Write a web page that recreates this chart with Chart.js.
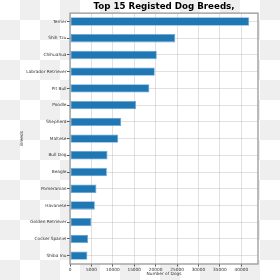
<!DOCTYPE html>
<html>
<head>
<meta charset="utf-8">
<script src="https://cdn.jsdelivr.net/npm/chart.js@4.4.0/dist/chart.umd.min.js"></script>
<style>
    html, body {
        margin: 0;
        padding: 0;
        width: 280px;
        height: 280px;
        overflow: hidden;
        /* transparent-figure checkerboard */
        background-color: #fff;
        background-image: conic-gradient(#efefef 0 25%, #fff 0 50%, #efefef 0 75%, #fff 0);
        background-size: 40px 40px;
    }
    #wrap {
        position: relative;
        width: 280px;
        height: 280px;
    }
</style>
</head>
<body>
<div id="wrap"><canvas id="dogChart"></canvas></div>
<script>
// Data
const breeds = [
    'Terrier', 'Shih Tzu', 'Chihuahua', 'Labrador Retriever', 'Pit Bull',
    'Poodle', 'Shepherd', 'Maltese', 'Bull Dog', 'Beagle',
    'Pomeranian', 'Havanese', 'Golden Retriever', 'Cocker Spaniel', 'Shiba Inu'
];
const dogCounts = [
    41850, 24580, 20260, 19790, 18540,
    15420, 11970, 11270, 8760, 8610,
    6170, 5800, 5000, 4230, 4060
];
const xTicks = [0, 5000, 10000, 15000, 20000, 25000, 30000, 35000, 40000];
const xMax = 43900;

const FONT = 'DejaVu Sans, sans-serif';
const GRID = 'rgba(176, 176, 176, 0.38)';

// White axes face + grey frame around plot area
const axesFrame = {
    id: 'axesFrame',
    beforeDraw(chart) {
        const { ctx, chartArea: a } = chart;
        ctx.save();
        ctx.fillStyle = '#ffffff';
        ctx.fillRect(a.left, a.top, a.right - a.left, a.bottom - a.top);
        ctx.restore();
    },
    afterDraw(chart) {
        const { ctx, chartArea: a } = chart;
        ctx.save();
        ctx.strokeStyle = '#999999';
        ctx.lineWidth = 1.3;
        ctx.strokeRect(a.left, a.top, a.right - a.left, a.bottom - a.top);
        ctx.restore();
    }
};

const ctx = document.getElementById('dogChart');

new Chart(ctx, {
    type: 'bar',
    data: {
        labels: breeds,
        datasets: [{
            label: 'Number of Dogs',
            data: dogCounts,
            backgroundColor: '#1f77b4',
            borderColor: '#6aa6d6',
            borderWidth: 0.8,
            borderSkipped: false,
            barPercentage: 0.5,
            categoryPercentage: 1.0
        }]
    },
    options: {
        indexAxis: 'y',
        responsive: true,
        maintainAspectRatio: false,
        animation: false,
        devicePixelRatio: 1,
        layout: {
            padding: { left: 0, right: 22, top: 0, bottom: 0 }
        },
        plugins: {
            legend: { display: false },
            tooltip: { enabled: false },
            title: {
                display: true,
                text: 'Top 15 Registed Dog Breeds,',
                fullSize: false,
                color: '#000',
                font: { family: FONT, size: 8.7, weight: 'bold', lineHeight: 1.2 },
                padding: { top: 1.5, bottom: 1.2 }
            }
        },
        scales: {
            x: {
                min: 0,
                max: xMax,
                z: 1,
                afterBuildTicks: (scale) => {
                    scale.ticks = xTicks.map(v => ({ value: v }));
                },
                afterFit: (scale) => { scale.height = 16; },
                ticks: {
                    color: '#333',
                    padding: 0.5,
                    maxRotation: 0,
                    autoSkip: false,
                    font: { family: FONT, size: 4.3 },
                    callback: (v) => String(v)
                },
                grid: {
                    color: GRID,
                    lineWidth: 1,
                    tickColor: '#555',
                    tickLength: 2.5
                },
                border: { display: false },
                title: {
                    display: true,
                    text: 'Number of Dogs',
                    color: '#333',
                    font: { family: FONT, size: 4.3, lineHeight: 1.2 },
                    padding: { top: 0, bottom: 3.2 }
                }
            },
            y: {
                z: 1,
                afterFit: (scale) => { scale.width = 70; },
                ticks: {
                    color: '#333',
                    padding: 0.5,
                    autoSkip: false,
                    font: { family: FONT, size: 4.3 }
                },
                grid: {
                    offset: false,
                    color: GRID,
                    lineWidth: 1,
                    tickColor: '#555',
                    tickLength: 3
                },
                border: { display: false },
                title: {
                    display: true,
                    text: 'Breeds',
                    color: '#333',
                    font: { family: FONT, size: 4.3, lineHeight: 1.2 },
                    padding: { top: 19.2, bottom: 0 }
                }
            }
        }
    },
    plugins: [axesFrame]
});
</script>
</body>
</html>
